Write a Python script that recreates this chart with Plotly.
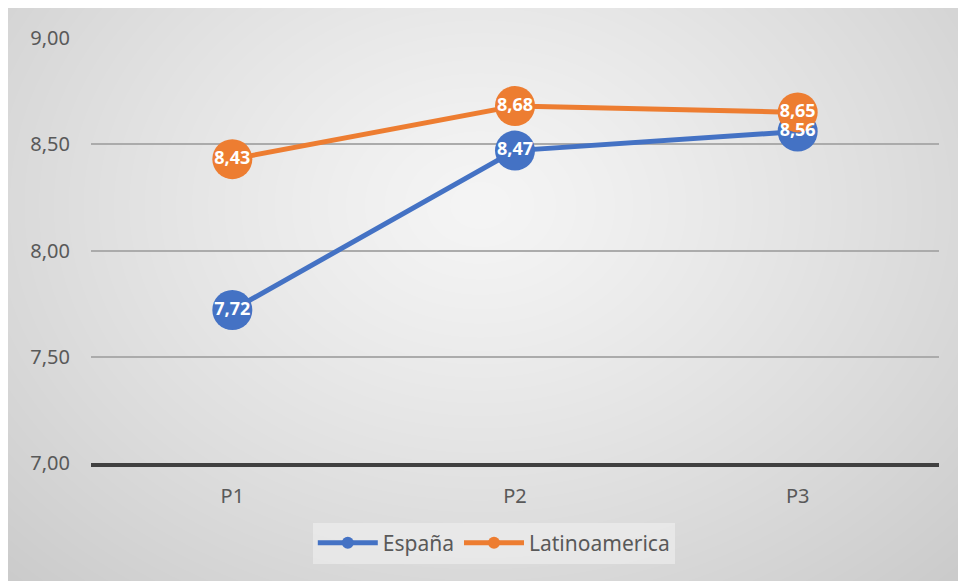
import numpy as np
import zlib, struct, base64
import plotly.graph_objects as go

# ---- data ----
categories = ["P1", "P2", "P3"]
espana = [7.72, 8.47, 8.56]
latam = [8.43, 8.68, 8.65]
series_names = ["España", "Latinoamerica"]
y_ticks = [7.0, 7.5, 8.0, 8.5, 9.0]

BLUE = "#4472C4"
ORANGE = "#ED7D31"
FONT = "Noto Sans"
GREY_TXT = "#595959"

W, H = 958, 581
ML, MR, MT, MB = 91, 19, 38, 118
PW, PH = W - ML - MR, H - MT - MB

# ---- radial gradient background as PNG ----
yy, xx = np.mgrid[0:H, 0:W].astype(float)
cx, cy = 480.0, 205.0
d = np.sqrt(((xx - cx) / 485.0) ** 2 + ((yy - cy) / 375.0) ** 2)
val = 245.0 - 28.0 * d ** 1.2
val = np.clip(val, 190, 250)
val[(xx < 8) | (yy < 8)] = 255
img = val.astype(np.uint8)

def to_png(arr):
    h, w = arr.shape
    raw = b"".join(b"\x00" + arr[i].tobytes() for i in range(h))
    def chunk(t, dta):
        c = struct.pack(">I", len(dta)) + t + dta
        return c + struct.pack(">I", zlib.crc32(t + dta) & 0xFFFFFFFF)
    ihdr = struct.pack(">IIBBBBB", w, h, 8, 0, 0, 0, 0)
    return (b"\x89PNG\r\n\x1a\n" + chunk(b"IHDR", ihdr)
            + chunk(b"IDAT", zlib.compress(raw, 9)) + chunk(b"IEND", b""))

src = "data:image/png;base64," + base64.b64encode(to_png(img)).decode()

def fmt(v):
    return f"{v:.2f}".replace(".", ",")

fig = go.Figure()
for name, vals, col in [(series_names[0], espana, BLUE), (series_names[1], latam, ORANGE)]:
    fig.add_trace(go.Scatter(
        x=categories, y=vals, name=name, mode="lines+markers",
        line=dict(color=col, width=5),
        marker=dict(color=col, size=40, line=dict(width=0)),
        hoverinfo="skip",
    ))
for vals in [espana, latam]:
    fig.add_trace(go.Scatter(
        x=categories, y=vals, mode="text", showlegend=False,
        text=[fmt(v) for v in vals], textposition="middle center",
        textfont=dict(family=FONT, size=18, color="white", weight="bold"),
        hoverinfo="skip",
    ))

fig.update_layout(
    width=W, height=H,
    margin=dict(l=ML, r=MR, t=MT, b=MB, pad=0),
    paper_bgcolor="white",
    plot_bgcolor="rgba(0,0,0,0)",
    separators=",.",
    font=dict(family=FONT, color=GREY_TXT),
    images=[dict(source=src, xref="paper", yref="paper",
                 x=-ML / PW, y=(PH + MT) / PH, sizex=W / PW, sizey=H / PH,
                 xanchor="left", yanchor="top", sizing="stretch", layer="below")],
    xaxis=dict(
        type="category", range=[-0.5, 2.5], showgrid=False,
        showline=True, linecolor="#404040", linewidth=4,
        ticks="", ticklabelstandoff=12,
        tickfont=dict(family=FONT, size=20, color=GREY_TXT),
        fixedrange=True,
    ),
    yaxis=dict(
        range=[7, 9], tickvals=y_ticks, tickformat=".2f",
        showgrid=True, gridcolor="#ababab", gridwidth=2,
        zeroline=False, showline=False, ticks="", ticklabelstandoff=20,
        tickfont=dict(family=FONT, size=20, color=GREY_TXT),
        fixedrange=True,
    ),
    legend=dict(
        orientation="h", x=0.475, xanchor="center", y=-0.14, yanchor="top",
        bgcolor="rgba(240,240,240,0.6)",
        font=dict(family=FONT, size=21, color=GREY_TXT),
        itemsizing="constant", itemwidth=60, tracegroupgap=0,
        borderwidth=0,
    ),
    showlegend=True,
)

fig.write_html("out.html")
